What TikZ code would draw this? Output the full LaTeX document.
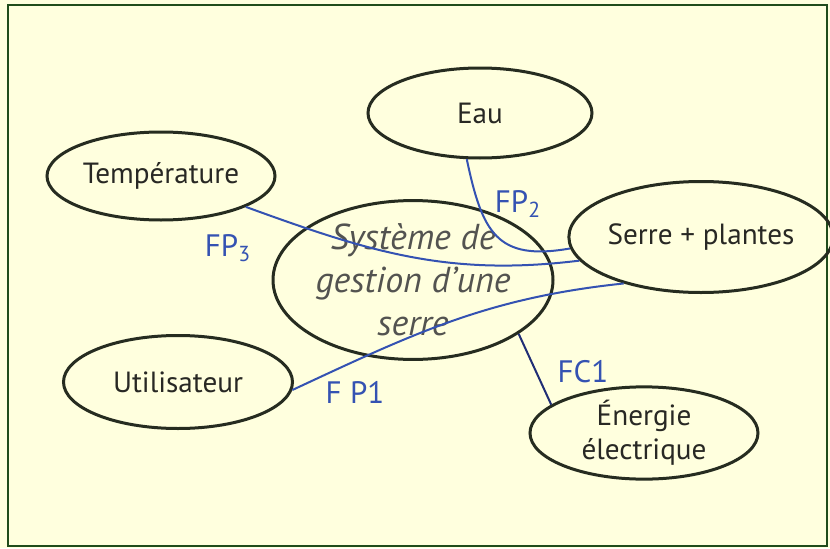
\documentclass[tikz,border=0pt]{standalone}
\usepackage{fontspec}
\setmainfont{PT Sans}
\usetikzlibrary{positioning, shapes.geometric}

\definecolor{paper}{RGB}{255,255,222}
\definecolor{ink}{RGB}{38,44,32}
\definecolor{inktext}{RGB}{40,40,36}
\definecolor{pen}{RGB}{52,82,178}
\definecolor{penDark}{RGB}{32,46,118}

\begin{document}
\begin{tikzpicture}[
    x=1pt, y=1pt, on grid,
    font=\fontsize{14.6}{17}\selectfont,
    % Define styles for the diagram
    actor/.style={ellipse, draw=ink, line width=1.5pt, text=inktext, minimum width=113pt, minimum height=45pt, inner sep=0pt, align=center},
    system/.style={actor, minimum width=140pt, minimum height=73.5pt, text=inktext!80, font=\fontsize{18}{21.5}\selectfont\itshape},
    link/.style={draw=pen, line width=1pt},
    flabel/.style={text=pen, font=\fontsize{15.5}{15.5}\selectfont}
]

% --- Sheet ---
\useasboundingbox (0,0) rectangle (415,274);
\fill[paper] (0,0) rectangle (415,274);
\draw[draw=ink!85!green, line width=1pt] (4,1) rectangle (413.5,271.5);

% --- Nodes ---

% Centre
\node[system] (sys) at (206.5,134) {Système de\\gestion d’une\\serre};

% Surroundings
\node[actor, minimum width=112pt, above right=83.5pt and 33.5pt of sys] (eau) {Eau};
\node[actor, minimum width=114pt, minimum height=44pt, above left=52pt and 126pt of sys] (temp) {Température};
\node[actor, minimum width=111.5pt, minimum height=55.5pt, above right=21.5pt and 144pt of sys] (serre) {Serre + plantes};
\node[actor, minimum width=114.5pt, minimum height=46.5pt, below left=51pt and 117.5pt of sys] (util) {Utilisateur};
\node[actor, minimum width=114pt, below right=76.5pt and 115.5pt of sys] (ener) {Énergie\\électrique};

% --- Links ---
\draw[link] (temp.-20) to[out=-20, in=187] (serre.191);
\draw[link] (eau.254) to[out=-78, in=190, looseness=1.4] (serre.185);
\draw[link] (util.-4) to[out=25, in=186] (serre.211);
\draw[link, draw=penDark] (sys.-27.5) -- (ener.163);

% Labels
\node[flabel] (lfp3) at (114,150) {FP\textsubscript{3}};
\node[flabel] (lfp2) at (259,172) {FP\textsubscript{2}};
\node[flabel] (lfp1) at (177.5,78) {F P1};
\node[flabel] (lfc1) at (291.5,88) {FC1};

\end{tikzpicture}
\end{document}
